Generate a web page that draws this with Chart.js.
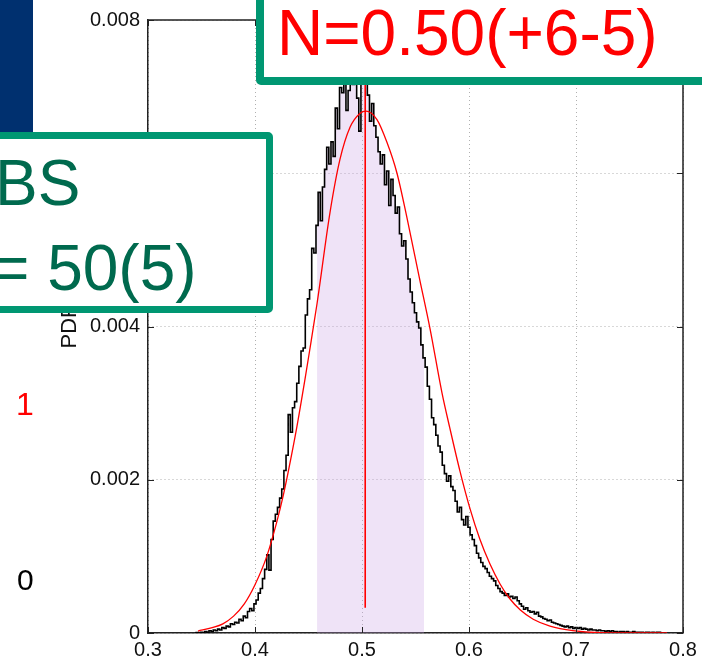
<!DOCTYPE html>
<html>
<head>
<meta charset="utf-8">
<script src="https://cdn.jsdelivr.net/npm/chart.js@4/dist/chart.umd.min.js"></script>
<style>
  html, body { margin: 0; padding: 0; background: #fff; overflow: hidden; }
  #wrap { position: relative; width: 702px; height: 666px; }
  #c { position: absolute; left: 0; top: 0; }
  .ov { position: absolute; font-family: "Liberation Sans", Arial, sans-serif; white-space: nowrap; line-height: 1; }
  .box { position: absolute; box-sizing: border-box; background: #fff; border: 7px solid #009772; border-radius: 5px; }
</style>
</head>
<body>
<div id="wrap">
  <canvas id="c" width="702" height="666"></canvas>
  <div style="position:absolute; left:0; top:0; width:33px; height:200px; background:#00306f;"></div>
  <div class="box" style="left:-30px; top:132px; width:303px; height:181px;"></div>
  <div class="ov" style="left:-5px; top:151px; font-size:64px; color:#006a4e;">BS</div>
  <div class="ov" style="left:-8px; top:236px; font-size:64px; color:#006a4e;">= 50(5)</div>
  <div class="box" style="left:256px; top:-30px; width:476px; height:115px; border-width:8px;"></div>
  <div class="ov" style="left:277px; top:1px; font-size:64px; color:#ff0000;">N=0.50(+6-5)</div>
  <div class="ov" style="left:16px; top:388px; font-size:32px; color:#ff0000;">1</div>
  <div class="ov" style="left:17px; top:565px; font-size:30px; color:#000;">0</div>
</div>
<script>
// histogramme : bins de 0.002 à partir de 0.344
const histStart = 0.344;
const histBinWidth = 0.002;
const histValues = [
  0, 0.000005, 0, 0.00001, 0.000005, 0.00002, 0.00001, 0.00003, 0.00002, 0.00004,
  0.00003, 0.00005, 0.00004, 0.00007, 0.00006, 0.00009, 0.00008, 0.00012, 0.00011, 0.00014,
  0.00013, 0.00018, 0.00016, 0.00022, 0.0002, 0.00028, 0.00032, 0.00029, 0.00038, 0.00043,
  0.00052, 0.00058, 0.00071, 0.00083, 0.00102, 0.00082, 0.00122, 0.00146, 0.00155, 0.00164,
  0.00176, 0.00188, 0.00212, 0.00232, 0.00285, 0.00262, 0.00294, 0.00302, 0.00326, 0.00348,
  0.00368, 0.00372, 0.00415, 0.00436, 0.00448, 0.00502, 0.00496, 0.00532, 0.00575, 0.00538,
  0.00582, 0.00605, 0.00634, 0.00612, 0.00641, 0.00622, 0.00685, 0.00658, 0.00712, 0.00705,
  0.00724, 0.00682, 0.00708, 0.00735, 0.00716, 0.00742, 0.00698, 0.00655, 0.00728, 0.00745,
  0.00731, 0.00702, 0.00668, 0.00691, 0.00662, 0.00647, 0.00628, 0.00612, 0.00624, 0.00585,
  0.00603, 0.00558, 0.00592, 0.00571, 0.00548, 0.00556, 0.00521, 0.00505, 0.00512, 0.00488,
  0.00462, 0.00445, 0.00431, 0.00418, 0.00406, 0.00398, 0.00376, 0.00359, 0.00347, 0.00322,
  0.00305, 0.00281, 0.00272, 0.00258, 0.00244, 0.00236, 0.00219, 0.00208, 0.00198, 0.00205,
  0.00191, 0.00186, 0.00172, 0.00158, 0.00164, 0.00148, 0.00141, 0.00152, 0.00138, 0.00128,
  0.00122, 0.00114, 0.00104, 0.00098, 0.00092, 0.00087, 0.00084, 0.00079, 0.00074, 0.00071,
  0.00068, 0.00062, 0.00058, 0.00054, 0.00052, 0.00049, 0.00051, 0.00047, 0.00048, 0.00045,
  0.00047, 0.00042, 0.00038, 0.00035, 0.00031, 0.00033, 0.00029, 0.00027, 0.00028, 0.00025,
  0.00027, 0.00022, 0.00021, 0.00019, 0.00018, 0.00016, 0.00017, 0.00014, 0.00013, 0.00012,
  0.00011, 0.0001, 0.00009, 0.00008, 0.00009, 0.00007, 0.00008, 0.00006, 0.00007, 0.00006,
  0.00007, 0.00005, 0.00006, 0.00005, 0.00004, 0.00005, 0.00004, 0.00004, 0.00003, 0.00004,
  0.00003, 0.00003, 0.00002, 0.00003, 0.00002, 0.00003, 0.00002, 0.00002, 0.00001, 0.00002,
  0.00002, 0.00001, 0.00002, 0.00001, 0.00001, 0.00002, 0.00001, 0.00001, 0.00001, 0.00001,
  0, 0.00001, 0.00001, 0, 0.00001, 0, 0.00001, 0.00001, 0, 0, 0
];

// intervalle ombré (lavande)
const bandLo = 0.457;
const bandHi = 0.559;

// courbe ajustée (rouge)
const fitX = [0.3467, 0.36, 0.37, 0.38, 0.39, 0.40, 0.411, 0.42, 0.426, 0.431, 0.439, 0.4467, 0.451, 0.458,
  0.470, 0.4794, 0.4888, 0.498, 0.5037, 0.514, 0.5234, 0.5327, 0.542, 0.554, 0.5636, 0.5748, 0.582,
  0.5916, 0.601, 0.610, 0.6196, 0.629, 0.638, 0.648, 0.66, 0.6757, 0.697, 0.722, 0.785];
const fitY = [0.000026, 0.00007, 0.00012, 0.00022, 0.00038, 0.00063, 0.001, 0.00143, 0.00177, 0.0021, 0.00268, 0.00331, 0.00368, 0.0043,
  0.00548, 0.00618, 0.0066, 0.00678, 0.00681, 0.0067, 0.0064, 0.006, 0.00542, 0.00461, 0.00397, 0.00313, 0.00268,
  0.00211, 0.00162, 0.00123, 0.0009, 0.00064, 0.00045, 0.0003, 0.00018, 0.00009, 0.00003, 0.000005, 0];

// valeur centrale
const centralX = 0.503;
const centralYRange = [0.00033, 0.0085];

const xTicks = [0.3, 0.4, 0.5, 0.6, 0.7, 0.8];
const yTicks = [0, 0.002, 0.004, 0.006, 0.008];

const histPoints = histValues.map((v, i) => ({ x: histStart + i * histBinWidth, y: v }));
const bandPoints = histPoints.filter(p => p.x >= bandLo && p.x <= bandHi);
const fitPoints = fitX.map((x, i) => ({ x: x, y: fitY[i] }));
const centralPoints = centralYRange.map(y => ({ x: centralX, y: y }));

// cadre haut/droite et graduations vers l'intérieur
const frameTicks = {
  id: 'frameTicks',
  afterDraw(chart) {
    const { ctx, chartArea: a, scales } = chart;
    ctx.save();
    ctx.strokeStyle = '#222';
    ctx.lineWidth = 1.5;
    ctx.beginPath();
    ctx.moveTo(a.left, a.top);
    ctx.lineTo(a.right, a.top);
    ctx.lineTo(a.right, a.bottom);
    ctx.stroke();
    ctx.lineWidth = 1;
    ctx.beginPath();
    xTicks.forEach(v => {
      const px = Math.round(scales.x.getPixelForValue(v)) + 0.5;
      ctx.moveTo(px, a.bottom); ctx.lineTo(px, a.bottom - 6);
      ctx.moveTo(px, a.top); ctx.lineTo(px, a.top + 6);
    });
    yTicks.forEach(v => {
      const py = Math.round(scales.y.getPixelForValue(v)) + 0.5;
      ctx.moveTo(a.left, py); ctx.lineTo(a.left + 6, py);
      ctx.moveTo(a.right, py); ctx.lineTo(a.right - 6, py);
    });
    ctx.stroke();
    ctx.restore();
  }
};

new Chart(document.getElementById('c'), {
  type: 'line',
  data: {
    datasets: [
      {
        data: centralPoints,
        borderColor: '#ff0000',
        borderWidth: 1.6,
        pointRadius: 0,
        fill: false,
        order: 0
      },
      {
        data: fitPoints,
        borderColor: '#ff0000',
        borderWidth: 1.3,
        pointRadius: 0,
        cubicInterpolationMode: 'monotone',
        fill: false,
        order: 1
      },
      {
        data: histPoints,
        borderColor: '#000',
        borderWidth: 1.6,
        pointRadius: 0,
        stepped: 'middle',
        fill: false,
        order: 2
      },
      {
        data: bandPoints,
        borderWidth: 0,
        borderColor: 'rgba(0,0,0,0)',
        backgroundColor: 'rgba(202,162,228,0.3)',
        pointRadius: 0,
        stepped: 'middle',
        fill: 'origin',
        order: 3
      }
    ]
  },
  options: {
    responsive: false,
    animation: false,
    devicePixelRatio: 1,
    layout: { padding: { top: 19, right: 19, left: 0, bottom: 0 } },
    plugins: { legend: { display: false }, tooltip: { enabled: false } },
    scales: {
      x: {
        type: 'linear',
        min: 0.3,
        max: 0.8,
        afterBuildTicks: s => { s.ticks = xTicks.map(v => ({ value: v })); },
        afterFit: s => { s.height = 33; },
        ticks: {
          padding: 5,
          color: '#111',
          font: { family: '"Liberation Sans", Arial, sans-serif', size: 20 },
          callback: v => v.toFixed(1)
        },
        grid: { color: '#b0b0b0', lineWidth: 1, drawTicks: false },
        border: { color: '#222', width: 1.5, dash: [1, 3] }
      },
      y: {
        min: 0,
        max: 0.008,
        afterBuildTicks: s => { s.ticks = yTicks.map(v => ({ value: v })); },
        afterFit: s => { s.width = 148; },
        ticks: {
          padding: 8,
          color: '#111',
          font: { family: '"Liberation Sans", Arial, sans-serif', size: 20 },
          callback: v => v === 0 ? '0' : v.toFixed(3)
        },
        grid: { color: '#b0b0b0', lineWidth: 1, drawTicks: false },
        border: { color: '#222', width: 1.5, dash: [1, 3] },
        title: {
          display: true,
          text: 'PDF',
          color: '#111',
          font: { family: '"Liberation Sans", Arial, sans-serif', size: 22 },
          padding: { top: 57, bottom: 0 }
        }
      }
    }
  },
  plugins: [frameTicks]
});
</script>
</body>
</html>
